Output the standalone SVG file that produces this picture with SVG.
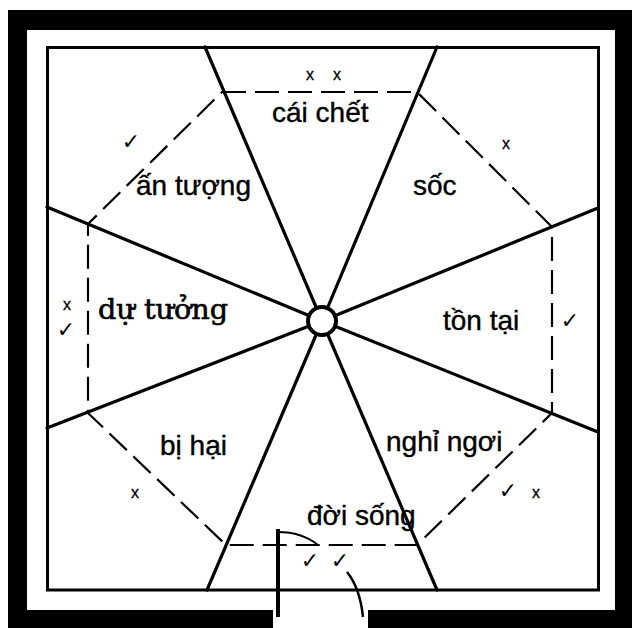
<svg xmlns="http://www.w3.org/2000/svg" width="632" height="628" viewBox="0 0 632 628">
<style>
.wall{fill:#000}
.rad{stroke:#000;stroke-width:3.2;fill:none;stroke-linecap:round}
.dash{stroke:#000;stroke-width:2.2;fill:none;stroke-dasharray:24 9}
.lbl{font-family:"Liberation Sans",Arial,sans-serif;font-size:28px;fill:#000;stroke:#000;stroke-width:0.4}
.ser{font-family:"DejaVu Serif","Liberation Serif",serif;font-size:27px;fill:#000;stroke:#000;stroke-width:0.6}
.mk{font-family:"Liberation Sans",Arial,sans-serif;font-size:16px;fill:#000;text-anchor:middle;stroke:#000;stroke-width:0.3}
.ck{font-family:"DejaVu Sans",sans-serif;font-size:22px;fill:#000;text-anchor:middle}
</style>
<rect width="632" height="628" fill="#fff"/>
<g id="frame">
<rect class="wall" x="8" y="10" width="624" height="20"/>
<rect class="wall" x="8" y="10" width="19" height="618"/>
<rect class="wall" x="615" y="10" width="17" height="618"/>
<rect class="wall" x="8" y="610" width="265" height="18"/>
<rect class="wall" x="368" y="610" width="264" height="18"/>
<rect x="47.5" y="47.5" width="551" height="542.5" fill="none" stroke="#000" stroke-width="3"/>
</g>
<g id="connectors">
<line class="rad" x1="322" y1="321" x2="205" y2="47"/>
<line class="rad" x1="322" y1="321" x2="437" y2="47"/>
<line class="rad" x1="322" y1="321" x2="598" y2="208"/>
<line class="rad" x1="322" y1="321" x2="598" y2="432"/>
<line class="rad" x1="322" y1="321" x2="437" y2="590"/>
<line class="rad" x1="322" y1="321" x2="207" y2="590"/>
<line class="rad" x1="322" y1="321" x2="47" y2="428"/>
<line class="rad" x1="322" y1="321" x2="47" y2="207"/>
<polygon class="dash" points="222,92 417,92 552,227 552,413 417,545 226,545 88,413 88,224"/>
</g>
<g id="hub">
<circle cx="322" cy="321" r="14" fill="#fff" stroke="#000" stroke-width="4"/>
</g>
<g id="door">
<line x1="278" y1="529" x2="278" y2="617" stroke="#000" stroke-width="4"/>
<path d="M278,532 C296,532 308,537 318,545" fill="none" stroke="#000" stroke-width="2"/>
<path d="M347,572 Q360,588 363,617" fill="none" stroke="#000" stroke-width="2.5"/>
</g>
<g id="n-caichet"><text class="lbl" x="272" y="122">cái chết</text></g>
<g id="n-antuong"><text class="lbl" x="136" y="195">ấn tượng</text></g>
<g id="n-soc"><text class="lbl" x="413" y="195">sốc</text></g>
<g id="n-dutuong"><text class="ser" x="98" y="319" textLength="130" lengthAdjust="spacingAndGlyphs">dự tưởng</text></g>
<g id="n-tontai"><text class="lbl" x="443" y="330">tồn tại</text></g>
<g id="n-bihai"><text class="lbl" x="160" y="455">bị hại</text></g>
<g id="n-nghingoi"><text class="lbl" x="386" y="451">nghỉ ngơi</text></g>
<g id="n-doisong"><text class="lbl" x="307" y="525">đời sống</text></g>
<g id="marks">
<text class="mk" x="310" y="80">x</text>
<text class="mk" x="337" y="80">x</text>
<text class="ck" x="131" y="149">✓</text>
<text class="mk" x="506" y="149">x</text>
<text class="mk" x="67" y="310">x</text>
<text class="ck" x="66" y="337">✓</text>
<text class="ck" x="570" y="328">✓</text>
<text class="mk" x="135" y="498">x</text>
<text class="ck" x="508" y="498">✓</text>
<text class="mk" x="536" y="498">x</text>
<text class="ck" x="310" y="568">✓</text>
<text class="ck" x="340" y="568">✓</text>
</g>
</svg>
